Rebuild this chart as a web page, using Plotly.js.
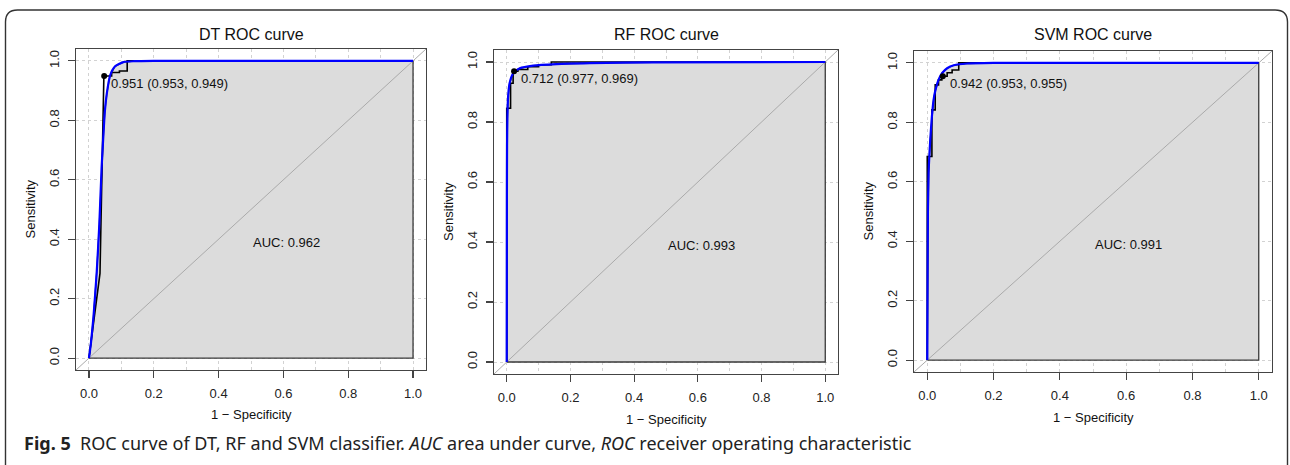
<!DOCTYPE html>
<html><head><meta charset="utf-8">
<script src="https://cdn.plot.ly/plotly-3.0.1.min.js"></script>
<style>html,body{margin:0;padding:0;background:#fff}#chart{width:1290px;height:465px}</style>
</head><body><div id="chart"></div>
<script>
// ---- text ----
const panelTitles = ['DT ROC curve', 'RF ROC curve', 'SVM ROC curve'];
const aucLabels = ['AUC: 0.962', 'AUC: 0.993', 'AUC: 0.991'];
const thresholdLabels = ['0.951 (0.953, 0.949)', '0.712 (0.977, 0.969)', '0.942 (0.953, 0.955)'];
const xAxisLabel = '1 \u2212 Specificity';
const yAxisLabel = 'Sensitivity';
const captionText = '<b>Fig. 5</b>  ROC curve of DT, RF and SVM classifier. <i>AUC</i> area under curve, <i>ROC</i> receiver operating characteristic';

// ---- best-threshold points (1 - specificity, sensitivity) ----
const thresholdFpr = [0.047, 0.023, 0.047];
const thresholdTpr = [0.949, 0.969, 0.955];

// ---- ticks ----
const tickVals = [0, 0.2, 0.4, 0.6, 0.8, 1];
const tickText = ['0.0', '0.2', '0.4', '0.6', '0.8', '1.0'];
const xMinorGrid = [0.1, 0.3, 0.5, 0.7, 0.9];

// ---- DT ----
const dtEmpFpr = [0, 0.034, 0.046, 0.047, 0.070, 0.070, 0.094, 0.094, 0.118, 0.118, 1];
const dtEmpTpr = [0, 0.285, 0.948, 0.949, 0.949, 0.961, 0.961, 0.966, 0.966, 1.0, 1];
const dtSmoothFpr = [0, 0.006, 0.014, 0.024, 0.032, 0.039, 0.044, 0.049, 0.055, 0.065, 0.080, 0.106, 0.14, 0.2, 1];
const dtSmoothTpr = [0, 0.05, 0.14, 0.29, 0.45, 0.64, 0.74, 0.83, 0.89, 0.95, 0.981, 0.996, 0.999, 1.0, 1];

// ---- RF ----
const rfEmpFpr = [0, 0, 0.012, 0.012, 0.020, 0.020, 0.023, 0.035, 0.035, 0.066, 0.066, 0.10, 0.10, 0.14, 0.14, 1];
const rfEmpTpr = [0, 0.846, 0.846, 0.929, 0.929, 0.969, 0.969, 0.969, 0.975, 0.975, 0.984, 0.984, 0.991, 0.991, 1.0, 1];
const rfSmoothFpr = [0, 0.0005, 0.001, 0.002, 0.004, 0.009, 0.020, 0.041, 0.083, 0.156, 0.26, 0.46, 1];
const rfSmoothTpr = [0, 0.55, 0.72, 0.81, 0.88, 0.929, 0.962, 0.979, 0.988, 0.993, 0.996, 0.999, 1];

// ---- SVM ----
const svmEmpFpr = [0, 0, 0.014, 0.014, 0.024, 0.024, 0.034, 0.034, 0.044, 0.044, 0.060, 0.060, 0.075, 0.075, 0.095, 0.095, 1];
const svmEmpTpr = [0, 0.685, 0.685, 0.842, 0.842, 0.926, 0.926, 0.943, 0.943, 0.955, 0.955, 0.967, 0.967, 0.976, 0.976, 1.0, 1];
const svmSmoothFpr = [0, 0.001, 0.002, 0.004, 0.009, 0.014, 0.019, 0.024, 0.034, 0.045, 0.060, 0.080, 0.12, 0.2, 1];
const svmSmoothTpr = [0, 0.30, 0.50, 0.63, 0.74, 0.82, 0.875, 0.905, 0.943, 0.966, 0.982, 0.992, 0.998, 1.0, 1];

// ---- layout geometry (pixels) ----
const W = 1290, H = 465;
const boxes = [ // left, right, top, bottom of each plot box
  [76, 426, 49, 370],
  [494, 838, 50, 374],
  [914, 1272, 51, 372]
];
const xTitleY = [414, 419, 417];

const empF = [dtEmpFpr, rfEmpFpr, svmEmpFpr];
const empT = [dtEmpTpr, rfEmpTpr, svmEmpTpr];
const smF = [dtSmoothFpr, rfSmoothFpr, svmSmoothFpr];
const smT = [dtSmoothTpr, rfSmoothTpr, svmSmoothTpr];

const FONT = 'Liberation Sans, Arial, sans-serif';
const px = x => x / W;
const py = y => 1 - y / H;

const data = [];
const layout = {
  width: W, height: H,
  margin: {l: 0, r: 0, t: 0, b: 0},
  paper_bgcolor: '#fff', plot_bgcolor: '#fff',
  showlegend: false,
  font: {family: FONT, color: '#222'},
  annotations: [], shapes: []
};

for (let i = 0; i < 3; i++) {
  const sfx = i === 0 ? '' : String(i + 1);
  const xa = 'x' + sfx, ya = 'y' + sfx;
  const [l, r, t, b] = boxes[i];
  // AUC polygon under the smoothed curve
  data.push({
    x: smF[i].concat([1, 0]), y: smT[i].concat([0, 0]),
    xaxis: xa, yaxis: ya, mode: 'lines', fill: 'toself',
    fillcolor: '#DCDCDC', line: {color: '#3a3a3a', width: 1.3}, hoverinfo: 'skip'
  });
  // identity line
  data.push({
    x: [-0.04, 1.04], y: [-0.04, 1.04], xaxis: xa, yaxis: ya, mode: 'lines',
    line: {color: '#AAAAAA', width: 1}, hoverinfo: 'skip'
  });
  // empirical ROC
  data.push({
    x: empF[i], y: empT[i], xaxis: xa, yaxis: ya, mode: 'lines',
    line: {color: '#000', width: 1.6}
  });
  // smoothed ROC
  data.push({
    x: smF[i], y: smT[i], xaxis: xa, yaxis: ya, mode: 'lines',
    line: {color: '#0000FF', width: 2.2, shape: 'spline', smoothing: 0.6}
  });
  // best threshold
  data.push({
    x: [thresholdFpr[i]], y: [thresholdTpr[i]], xaxis: xa, yaxis: ya, mode: 'markers',
    marker: {color: '#000', size: 6}
  });

  const axCommon = {
    range: [-0.04, 1.04], showline: true, mirror: true, linecolor: '#444', linewidth: 1.3,
    ticks: 'outside', ticklen: 7, tickcolor: '#444', tickwidth: 1.2,
    tickmode: 'array', tickvals: tickVals, ticktext: tickText,
    tickfont: {family: FONT, size: 13, color: '#222'},
    showgrid: true, gridcolor: '#d2d2d2', griddash: 'dot', gridwidth: 1,
    zeroline: false, fixedrange: true
  };
  layout['xaxis' + sfx] = Object.assign({}, axCommon, {
    domain: [px(l), px(r)], anchor: ya, ticklabelstandoff: 4,
    minor: {tickmode: 'array', tickvals: xMinorGrid, showgrid: true, gridcolor: '#d2d2d2', griddash: 'dot', gridwidth: 1, ticks: ''}
  });
  layout['yaxis' + sfx] = Object.assign({}, axCommon, {
    domain: [py(b), py(t)], anchor: xa, tickangle: -90, ticklabelstandoff: 4
  });

  // panel title
  layout.annotations.push({
    text: panelTitles[i], xref: 'paper', yref: 'paper', x: px((l + r) / 2), y: py(34),
    xanchor: 'center', yanchor: 'middle', showarrow: false, font: {family: FONT, size: 16, color: '#111'}
  });
  // x title
  layout.annotations.push({
    text: xAxisLabel, xref: 'paper', yref: 'paper', x: px((l + r) / 2), y: py(xTitleY[i]),
    xanchor: 'center', yanchor: 'middle', showarrow: false, font: {family: FONT, size: 13, color: '#111'}
  });
  // y title
  layout.annotations.push({
    text: yAxisLabel, xref: 'paper', yref: 'paper', x: px(l - 46), y: py((t + b) / 2),
    xanchor: 'center', yanchor: 'middle', textangle: -90, showarrow: false, font: {family: FONT, size: 13, color: '#111'}
  });
  // AUC text
  layout.annotations.push({
    text: aucLabels[i], xref: xa, yref: ya, x: 0.5, y: 0.39,
    xanchor: 'left', yanchor: 'middle', showarrow: false, font: {family: FONT, size: 13, color: '#111'}
  });
  // threshold text
  layout.annotations.push({
    text: thresholdLabels[i], xref: xa, yref: ya, x: thresholdFpr[i], y: thresholdTpr[i],
    xanchor: 'left', yanchor: 'middle', xshift: 5, yshift: -7, showarrow: false,
    font: {family: FONT, size: 13, color: '#111'}
  });
}

// caption
layout.annotations.push({
  text: captionText, xref: 'paper', yref: 'paper', x: px(22), y: py(443),
  xanchor: 'left', yanchor: 'middle', showarrow: false,
  font: {family: 'Noto Sans, Open Sans, sans-serif', size: 18, color: '#222'}
});

// rounded frame around the figure
const P = (x, y) => `${px(x)},${py(y)}`;
layout.shapes.push({
  type: 'path', xref: 'paper', yref: 'paper',
  path: `M ${P(5.5, 480)} L ${P(5.5, 22)} Q ${P(5.5, 10)} ${P(17.5, 10)} L ${P(1275, 10)} Q ${P(1287.5, 10)} ${P(1287.5, 22)} L ${P(1287.5, 480)}`,
  line: {color: '#333', width: 1.4}
});

Plotly.newPlot('chart', data, layout, {displayModeBar: false, staticPlot: true});
</script>
</body></html>
